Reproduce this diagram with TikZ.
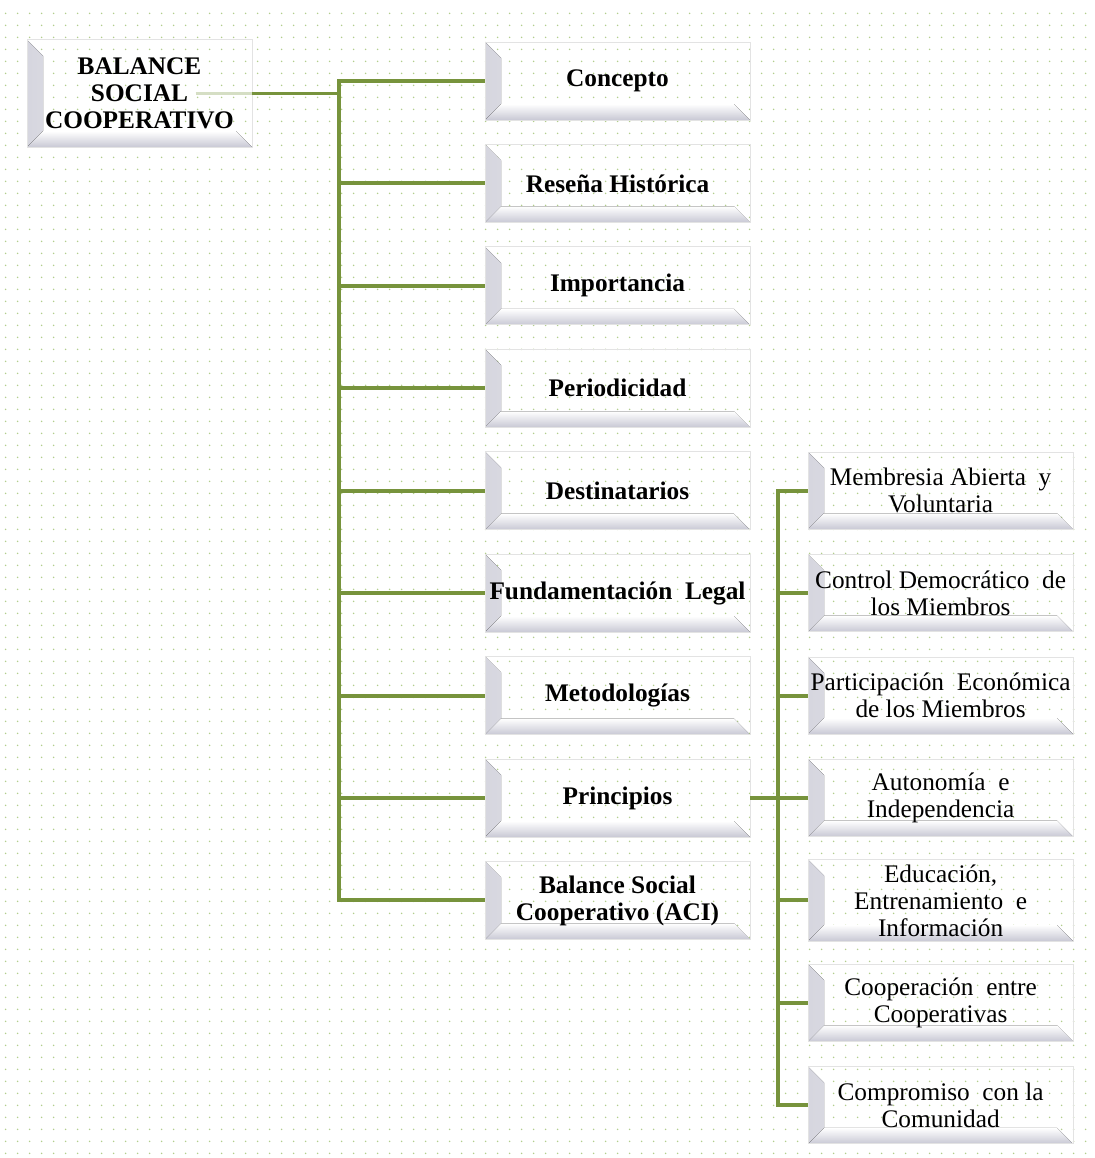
\documentclass[tikz,border=0pt]{standalone}
\usepackage{fontspec}
\setmainfont{Liberation Serif}
\usetikzlibrary{positioning,patterns,shadings}

\definecolor{olivegreen}{RGB}{119,147,60}
\definecolor{dotgreen}{RGB}{178,206,140}
\definecolor{bevelgray}{RGB}{200,200,212}

\pgfdeclarepatternformonly{greendots}{\pgfpointorigin}{\pgfpoint{0.29cm}{0.29cm}}{\pgfpoint{0.29cm}{0.29cm}}{%
  \pgfpathcircle{\pgfpoint{0.145cm}{0.145cm}}{0.6pt}\pgfusepath{fill}}

\tikzset{
  bevel/.style={draw=gray!22, line width=0.6pt, align=center, inner xsep=1pt,
    font=\fontsize{18}{19.2}\selectfont,
    path picture={
      \fill[left color=bevelgray!75, right color=white]
        (path picture bounding box.north west)
        -- ([shift={(0.4cm,-0.4cm)}]path picture bounding box.north west)
        -- ([shift={(0.4cm,0.4cm)}]path picture bounding box.south west)
        -- (path picture bounding box.south west) -- cycle;
      \fill[bottom color=bevelgray, top color=white]
        (path picture bounding box.south west)
        -- ([shift={(0.4cm,0.4cm)}]path picture bounding box.south west)
        -- ([shift={(-0.4cm,0.4cm)}]path picture bounding box.south east)
        -- (path picture bounding box.south east) -- cycle;
    }},
}

\begin{document}
\begin{tikzpicture}[x=0.025cm,y=-0.025cm,node distance=2.56cm]
  \tikzstyle{topic}=[bevel, minimum width=6.62cm, minimum height=1.95cm,
    font=\fontsize{18}{19.2}\selectfont\bfseries]
  \tikzstyle{principle}=[bevel, minimum width=6.62cm, minimum height=1.93cm]
  \tikzstyle{branch}=[draw=olivegreen, line width=2.8pt]

  \useasboundingbox (0,0) rectangle (1095,1158);
  \fill[white] (0,0) rectangle (1095,1158);
  \fill[pattern=greendots, pattern color=dotgreen] (4,4) rectangle (1091,1154);

  \node[topic, minimum width=5.62cm, minimum height=2.68cm]
                          (root)           at (139.5,93.5)  {BALANCE\\SOCIAL\\COOPERATIVO};

  \node[topic]            (concepto)       at (617.5,81)    {Concepto};
  \node[topic]            (historia)       [below of=concepto]       {Reseña Histórica};
  \node[topic]            (importancia)    [below of=historia]       {Importancia};
  \node[topic]            (periodicidad)   [below of=importancia]    {Periodicidad};
  \node[topic]            (destinatarios)  [below of=periodicidad]   {Destinatarios};
  \node[topic]            (fundamentacion) [below of=destinatarios]  {Fundamentación\ \ Legal};
  \node[topic]            (metodologias)   [below of=fundamentacion] {Metodologías};
  \node[topic]            (principios)     [below of=metodologias]   {Principios};
  \node[topic]            (aci)            [below of=principios]     {Balance Social\\Cooperativo\ (ACI)};

  \node[principle]        (membresia)      [right of=destinatarios, node distance=8.075cm] {Membresia\ Abierta\ \ y\\Voluntaria};
  \node[principle]        (control)        [below of=membresia]      {Control\ Democrático\ \ de\\los\ Miembros};
  \node[principle]        (participacion)  [below of=control]        {Participación\ \ Económica\\de los\ Miembros};
  \node[principle]        (autonomia)      [below of=participacion]  {Autonomía\ \ e\\Independencia};
  \node[principle]        (educacion)      [below of=autonomia]      {Educación,\\Entrenamiento\ \ e\\Información};
  \node[principle]        (cooperacion)    [below of=educacion]      {Cooperación\ \ entre\\Cooperativas};
  \node[principle]        (compromiso)     [below of=cooperacion]    {Compromiso\ \ con la\\Comunidad};

  \coordinate (trunk)    at (339,0);
  \coordinate (subtrunk) at (778,0);

  % root to the topics
  \draw[branch, draw opacity=0.3] ([xshift=-1.42cm]root.east) -- (root.east);
  \draw[branch] (root.east) -- (root.east -| trunk);
  \draw[branch] (concepto.west) -| (trunk |- aci.west) -- (aci.west);
  \foreach \n in {historia,importancia,periodicidad,destinatarios,fundamentacion,metodologias,principios}
    \draw[branch] (\n.west -| trunk) -- (\n.west);

  % principios to its list
  \draw[branch] (principios.east) -- (principios.east -| subtrunk);
  \draw[branch] (membresia.west) -| (subtrunk |- compromiso.west) -- (compromiso.west);
  \foreach \n in {control,participacion,autonomia,educacion,cooperacion}
    \draw[branch] (\n.west -| subtrunk) -- (\n.west);
\end{tikzpicture}
\end{document}
